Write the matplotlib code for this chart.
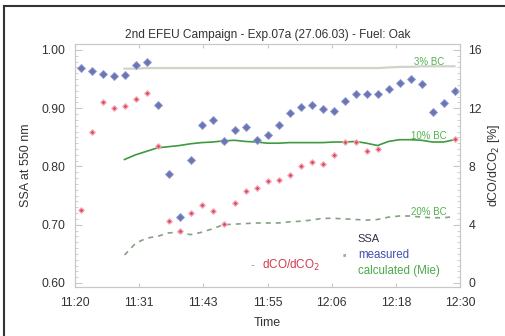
import matplotlib
matplotlib.use("Agg")
import matplotlib.pyplot as plt
from matplotlib.ticker import MultipleLocator, FixedLocator
from matplotlib.lines import Line2D

plt.rcParams['font.family'] = ['Liberation Sans', 'DejaVu Sans']

# time in minutes since 11:20 (one sample about every 2 minutes)
time_min = [1, 3, 5, 7, 9, 11, 13, 15, 17, 19, 21, 23, 25, 27, 29, 31, 33, 35,
            37, 39, 41, 43, 45, 47, 49, 51, 53, 55, 57, 59, 61, 63, 65, 67, 69]

ssa_measured = [0.969, 0.964, 0.959, 0.955, 0.957, 0.974, 0.979, 0.906, 0.787,
                0.713, 0.811, 0.871, 0.880, 0.844, 0.863, 0.868, 0.845, 0.854,
                0.871, 0.892, 0.902, 0.906, 0.899, 0.895, 0.912, 0.924, 0.924,
                0.924, 0.933, 0.943, 0.950, 0.942, 0.894, 0.909, 0.930]

# dCO/dCO2 [%] (right axis); samples 0..27 and 34
dco_time = time_min[:28] + [time_min[34]]
dco_ratio = [5.0, 10.4, 12.4, 12.0, 12.15, 12.6, 13.05, 9.4, 4.26, 3.57, 4.81,
             5.36, 4.95, 4.05, 5.5, 6.32, 6.53, 7.0, 7.07, 7.42, 8.04, 8.31,
             8.17, 8.79, 9.68, 9.68, 9.07, 9.2, 9.89]

calc_time = time_min[4:]
ssa_calc_3bc = [0.968, 0.968, 0.969, 0.969, 0.969, 0.969, 0.969, 0.969, 0.969,
                0.969, 0.969, 0.969, 0.969, 0.969, 0.969, 0.969, 0.969, 0.969,
                0.969, 0.969, 0.969, 0.969, 0.969, 0.969, 0.970, 0.971, 0.971,
                0.972, 0.972, 0.972, 0.972]
ssa_calc_10bc = [0.812, 0.820, 0.826, 0.832, 0.834, 0.836, 0.839, 0.841, 0.842,
                 0.844, 0.845, 0.843, 0.842, 0.840, 0.840, 0.841, 0.841, 0.841,
                 0.841, 0.842, 0.842, 0.843, 0.840, 0.836, 0.843, 0.846, 0.846,
                 0.845, 0.842, 0.842, 0.846]
ssa_calc_20bc = [0.648, 0.668, 0.677, 0.680, 0.686, 0.687, 0.683, 0.687, 0.693,
                 0.700, 0.701, 0.702, 0.703, 0.703, 0.703, 0.705, 0.706, 0.708,
                 0.711, 0.711, 0.710, 0.709, 0.708, 0.709, 0.713, 0.715, 0.715,
                 0.713, 0.712, 0.712, 0.714]

xtick_pos = [0, 70 / 6, 140 / 6, 35, 280 / 6, 350 / 6, 70]
xtick_labels = ['11:20', '11:31', '11:43', '11:55', '12:06', '12:18', '12:30']
yticks_left = [0.60, 0.70, 0.80, 0.90, 1.00]
yticks_right = [0, 4, 8, 12, 16]

fig = plt.figure(figsize=(5.05, 3.36), dpi=100)
W, H = 505, 336
ax = fig.add_axes([75 / W, 1 - 287 / H, 385 / W, 243 / H])
ax2 = ax.twinx()

spine_c = '#c8c8c8'
txt_c = '#333333'
for a in (ax, ax2):
    for s in a.spines.values():
        s.set_color(spine_c)
        s.set_linewidth(0.8)

ax.set_xlim(0, 70)
ax.set_ylim(0.5931, 1.0103)
ax2.set_ylim(-0.275, 16.41)

ax.xaxis.set_major_locator(FixedLocator(xtick_pos))
ax.set_xticklabels(xtick_labels)
ax.set_yticks(yticks_left)
ax.set_yticklabels(['%.2f' % v for v in yticks_left])
ax.yaxis.set_minor_locator(MultipleLocator(0.01))
ax2.set_yticks(yticks_right)
ax2.yaxis.set_minor_locator(MultipleLocator(0.4))

ax.tick_params(axis='both', which='both', direction='in', colors=spine_c,
               labelcolor=txt_c, labelsize=8.8)
ax.tick_params(axis='x', which='major', top=True, length=3, pad=7)
ax.tick_params(axis='y', which='major', length=5, pad=7)
ax.tick_params(axis='y', which='minor', length=2)
ax2.tick_params(axis='y', which='both', direction='in', colors=spine_c,
                labelcolor=txt_c, labelsize=8.8)
ax2.tick_params(axis='y', which='major', length=5, pad=6)
ax2.tick_params(axis='y', which='minor', length=2)

# calculated lines
ax.plot(calc_time, ssa_calc_3bc, color='#cfd3c8', lw=1.6, zorder=2)
ax.plot(calc_time, ssa_calc_10bc, color='#3d9a3d', lw=1.2, zorder=2)
ax.plot(calc_time, ssa_calc_20bc, color='#86a083', lw=1.2, ls=(0, (3, 3)), zorder=2)

# measured
ax.plot(time_min, ssa_measured, ls='none', marker='D', ms=4.3,
        color='#6a76b4', mec='#909ace', mew=0.6, zorder=4)
ax2.plot(dco_time, dco_ratio, ls='none', marker='D', ms=2.8,
         color='#dc4a62', mec='#f3a9b6', mew=0.9, zorder=5)

# annotations
bc_c = '#4fb34f'
ax.text(0.96, 0.925, '3% BC', transform=ax.transAxes, ha='right', va='center',
        fontsize=7, color=bc_c)
ax.text(0.965, 0.62, '10% BC', transform=ax.transAxes, ha='right', va='center',
        fontsize=7, color=bc_c)
ax.text(0.965, 0.31, '20% BC', transform=ax.transAxes, ha='right', va='center',
        fontsize=7, color=bc_c)

# legend-like texts
ax.text(0.735, 0.196, 'SSA', transform=ax.transAxes, ha='left', va='center',
        fontsize=8, color='#303048')
ax.text(0.735, 0.130, 'measured', transform=ax.transAxes, ha='left', va='center',
        fontsize=8.3, color='#3d4fb0')
ax.text(0.735, 0.064, 'calculated (Mie)', transform=ax.transAxes, ha='left',
        va='center', fontsize=8.3, color='#4aa84a')
ax.text(0.70, 0.132, '\u25a0', transform=ax.transAxes, ha='center', va='center',
        fontsize=4, color='#a8a8b0')
ax.text(0.46, 0.090, '-', transform=ax.transAxes, ha='center', va='center',
        fontsize=8, color='#909090')
ax.text(0.485, 0.090, 'dCO/dCO$_2$', transform=ax.transAxes, ha='left',
        va='center', fontsize=8.5, color='#d23a4a')

ax.set_title('2nd EFEU Campaign - Exp.07a (27.06.03) - Fuel: Oak', fontsize=8.6,
             color=txt_c, pad=4)
ax.set_xlabel('Time', fontsize=9, color=txt_c, labelpad=6)
ax.set_ylabel('SSA at 550 nm', fontsize=9, color=txt_c, labelpad=7)
ax2.set_ylabel('dCO/dCO$_2$ [%]', fontsize=9, color=txt_c, labelpad=3)

# frame around figure (left and top visible)
fig.add_artist(Line2D([4 / W, 4 / W], [0, 1 - 6 / H], transform=fig.transFigure,
                      color='#333333', lw=1.5))
fig.add_artist(Line2D([4 / W, 1], [1 - 6 / H, 1 - 6 / H], transform=fig.transFigure,
                      color='#333333', lw=1.5))

fig.savefig('out.png', dpi=100)
